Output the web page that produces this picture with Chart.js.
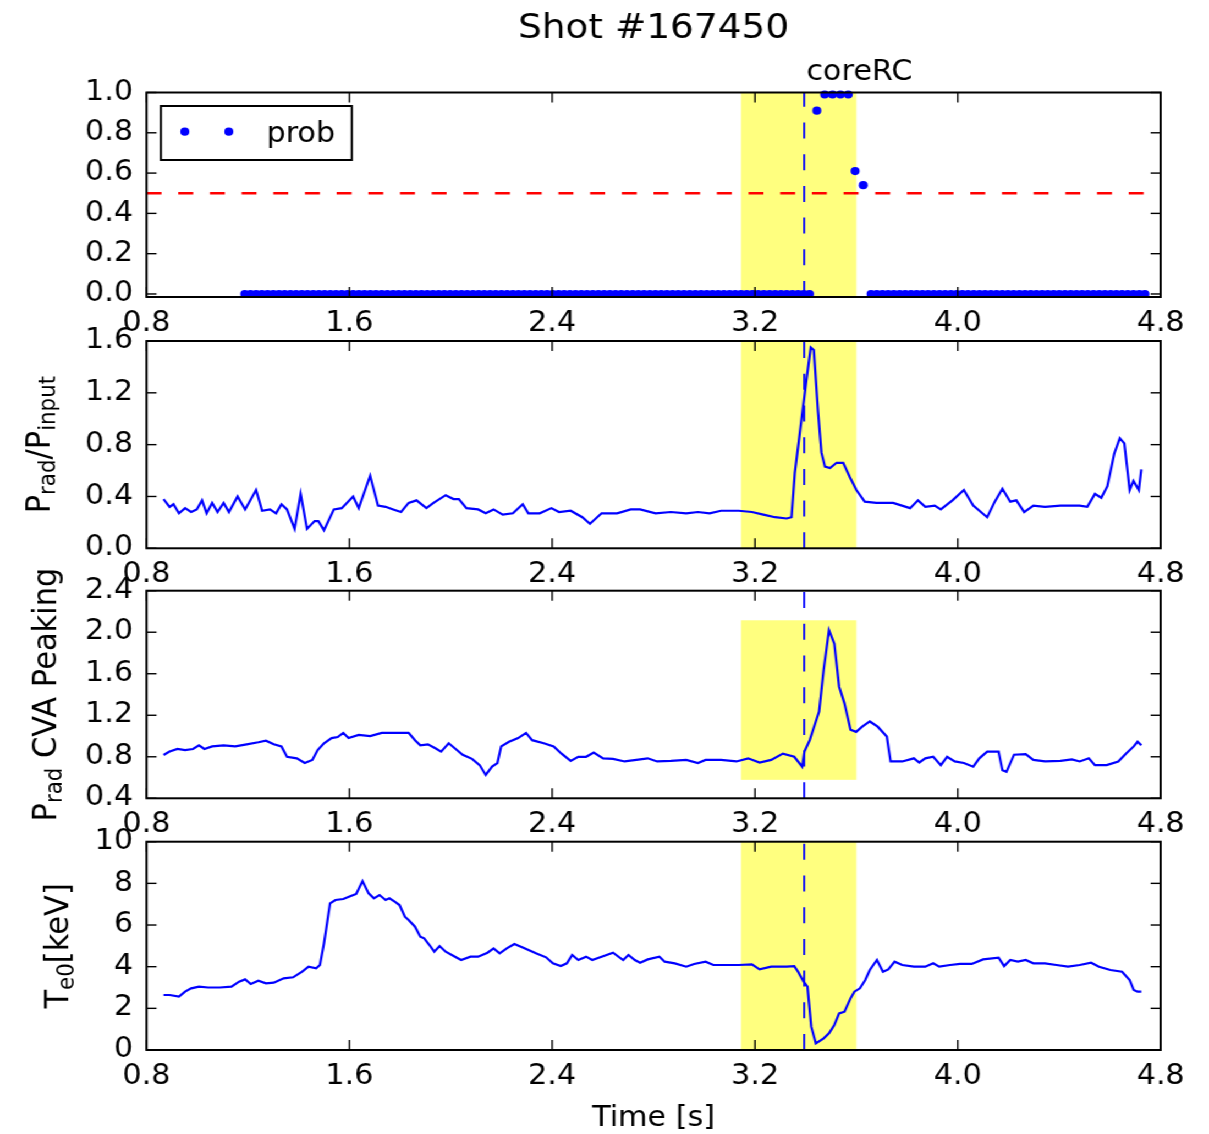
<!DOCTYPE html>
<html>
<head>
<meta charset="utf-8">
<script src="https://cdn.jsdelivr.net/npm/chart.js@4.4.1/dist/chart.umd.min.js"></script>
<style>
  html, body { margin: 0; padding: 0; background: #fff; width: 1209px; height: 1134px; overflow: hidden; }
  #figure { position: absolute; left: 0; top: 0; width: 1099px; height: 1134px;
            transform: scaleX(1.1001); transform-origin: 0 0; }
  #figure canvas { position: absolute; left: 0; top: 0; }
</style>
</head>
<body>
<div id="figure">
  <canvas id="probPanel" width="1099" height="1134"></canvas>
  <canvas id="pradPanel" width="1099" height="1134"></canvas>
  <canvas id="cvaPanel" width="1099" height="1134"></canvas>
  <canvas id="te0Panel" width="1099" height="1134"></canvas>
</div>
<script>
// ---------------- data ----------------
const shotNumber = 167450;
const eventLabel = 'coreRC';
const xTicks = [0.8, 1.6, 2.4, 3.2, 4.0, 4.8];
const eventStart = 3.145;          // start of shaded window [s]
const eventEnd = 3.600;            // end of shaded window [s]
const alarmTime = 3.394;           // alarm time [s]
const threshold = 0.5;
const cvaWindow = [0.578, 2.115];  // vertical extent of the shaded window on the CVA panel

const probTicks = [0.0, 0.2, 0.4, 0.6, 0.8, 1.0];
const pradTicks = [0.0, 0.4, 0.8, 1.2, 1.6];
const cvaTicks = [0.4, 0.8, 1.2, 1.6, 2.0, 2.4];
const te0Ticks = [0, 2, 4, 6, 8, 10];

const probTime = [
  1.1875, 1.2100, 1.2325, 1.2550, 1.2775, 1.3000, 1.3225, 1.3450, 1.3675, 1.3900,
  1.4125, 1.4350, 1.4575, 1.4800, 1.5025, 1.5250, 1.5475, 1.5700, 1.5925, 1.6150,
  1.6375, 1.6600, 1.6825, 1.7050, 1.7275, 1.7500, 1.7725, 1.7950, 1.8175, 1.8400,
  1.8625, 1.8850, 1.9075, 1.9300, 1.9525, 1.9750, 1.9975, 2.0200, 2.0425, 2.0650,
  2.0875, 2.1100, 2.1325, 2.1550, 2.1775, 2.2000, 2.2225, 2.2450, 2.2675, 2.2900,
  2.3125, 2.3350, 2.3575, 2.3800, 2.4025, 2.4250, 2.4475, 2.4700, 2.4925, 2.5150,
  2.5375, 2.5600, 2.5825, 2.6050, 2.6275, 2.6500, 2.6725, 2.6950, 2.7175, 2.7400,
  2.7625, 2.7850, 2.8075, 2.8300, 2.8525, 2.8750, 2.8975, 2.9200, 2.9425, 2.9650,
  2.9875, 3.0100, 3.0325, 3.0550, 3.0775, 3.1000, 3.1225, 3.1450, 3.1675, 3.1900,
  3.2125, 3.2350, 3.2575, 3.2800, 3.3025, 3.3250, 3.3475, 3.3700, 3.3925, 3.4150,
  3.444, 3.475, 3.506, 3.537, 3.568, 3.595, 3.627,
  3.6580, 3.6805, 3.7030, 3.7255, 3.7480, 3.7705, 3.7930, 3.8155, 3.8380, 3.8605,
  3.8830, 3.9055, 3.9280, 3.9505, 3.9730, 3.9955, 4.0180, 4.0405, 4.0630, 4.0855,
  4.1080, 4.1305, 4.1530, 4.1755, 4.1980, 4.2205, 4.2430, 4.2655, 4.2880, 4.3105,
  4.3330, 4.3555, 4.3780, 4.4005, 4.4230, 4.4455, 4.4680, 4.4905, 4.5130, 4.5355,
  4.5580, 4.5805, 4.6030, 4.6255, 4.6480, 4.6705, 4.6930, 4.7155, 4.7380
];
const probValue = [
  0, 0, 0, 0, 0, 0, 0, 0, 0, 0,  0, 0, 0, 0, 0, 0, 0, 0, 0, 0,
  0, 0, 0, 0, 0, 0, 0, 0, 0, 0,  0, 0, 0, 0, 0, 0, 0, 0, 0, 0,
  0, 0, 0, 0, 0, 0, 0, 0, 0, 0,  0, 0, 0, 0, 0, 0, 0, 0, 0, 0,
  0, 0, 0, 0, 0, 0, 0, 0, 0, 0,  0, 0, 0, 0, 0, 0, 0, 0, 0, 0,
  0, 0, 0, 0, 0, 0, 0, 0, 0, 0,  0, 0, 0, 0, 0, 0, 0, 0, 0, 0,
  0.91, 0.99, 0.99, 0.99, 0.99, 0.61, 0.54,
  0, 0, 0, 0, 0, 0, 0, 0, 0, 0,  0, 0, 0, 0, 0, 0, 0, 0, 0, 0,
  0, 0, 0, 0, 0, 0, 0, 0, 0, 0,  0, 0, 0, 0, 0, 0, 0, 0, 0, 0,
  0, 0, 0, 0, 0, 0, 0, 0, 0
];

const pradTime = [
  0.867, 0.891, 0.906, 0.928, 0.952, 0.976, 0.998, 1.019, 1.037, 1.059,
  1.080, 1.104, 1.125, 1.159, 1.189, 1.232, 1.256, 1.287, 1.311, 1.332,
  1.354, 1.384, 1.408, 1.433, 1.463, 1.478, 1.500, 1.539, 1.570, 1.615,
  1.637, 1.682, 1.713, 1.743, 1.773, 1.804, 1.834, 1.865, 1.904, 1.932,
  1.980, 2.011, 2.032, 2.062, 2.108, 2.138, 2.169, 2.205, 2.245, 2.284,
  2.306, 2.351, 2.397, 2.427, 2.473, 2.519, 2.549, 2.595, 2.656, 2.710,
  2.747, 2.808, 2.868, 2.929, 2.975, 3.021, 3.066, 3.136, 3.188, 3.233,
  3.279, 3.325, 3.344, 3.357, 3.377, 3.403, 3.420, 3.432, 3.449, 3.462,
  3.476, 3.496, 3.522, 3.548, 3.574, 3.600, 3.633, 3.679, 3.745, 3.812,
  3.843, 3.872, 3.909, 3.933, 3.979, 4.024, 4.061, 4.116, 4.146, 4.176,
  4.207, 4.231, 4.262, 4.298, 4.344, 4.405, 4.481, 4.511, 4.541, 4.566,
  4.590, 4.617, 4.639, 4.657, 4.678, 4.693, 4.714, 4.724
];
const pradRatio = [
  0.38, 0.32, 0.34, 0.27, 0.31, 0.28, 0.30, 0.37, 0.27, 0.35,
  0.28, 0.35, 0.28, 0.40, 0.30, 0.45, 0.29, 0.30, 0.27, 0.34,
  0.30, 0.15, 0.42, 0.15, 0.21, 0.21, 0.14, 0.30, 0.31, 0.40,
  0.31, 0.56, 0.33, 0.32, 0.30, 0.28, 0.35, 0.37, 0.31, 0.35,
  0.41, 0.38, 0.38, 0.31, 0.30, 0.27, 0.30, 0.26, 0.27, 0.34,
  0.27, 0.27, 0.31, 0.28, 0.29, 0.24, 0.19, 0.27, 0.27, 0.30,
  0.30, 0.27, 0.28, 0.27, 0.28, 0.27, 0.29, 0.29, 0.28, 0.26,
  0.24, 0.23, 0.24, 0.58, 0.89, 1.30, 1.55, 1.53, 1.05, 0.74,
  0.63, 0.62, 0.66, 0.66, 0.55, 0.45, 0.36, 0.35, 0.35, 0.31,
  0.37, 0.32, 0.33, 0.30, 0.37, 0.45, 0.33, 0.24, 0.36, 0.46,
  0.36, 0.37, 0.28, 0.33, 0.32, 0.33, 0.33, 0.32, 0.42, 0.39,
  0.48, 0.73, 0.85, 0.81, 0.45, 0.52, 0.45, 0.61
];

const cvaTime = [
  0.867, 0.891, 0.922, 0.952, 0.983, 1.007, 1.028, 1.059, 1.104, 1.150,
  1.195, 1.241, 1.271, 1.302, 1.332, 1.354, 1.393, 1.424, 1.454, 1.475,
  1.500, 1.530, 1.554, 1.576, 1.597, 1.637, 1.682, 1.728, 1.773, 1.834,
  1.859, 1.880, 1.910, 1.941, 1.962, 1.992, 2.017, 2.047, 2.084, 2.114,
  2.138, 2.163, 2.184, 2.199, 2.230, 2.266, 2.297, 2.321, 2.367, 2.406,
  2.437, 2.473, 2.503, 2.534, 2.564, 2.601, 2.640, 2.686, 2.732, 2.777,
  2.814, 2.868, 2.929, 2.975, 3.005, 3.066, 3.127, 3.173, 3.218, 3.264,
  3.310, 3.355, 3.386, 3.395, 3.416, 3.440, 3.453, 3.471, 3.492, 3.513,
  3.532, 3.553, 3.577, 3.599, 3.623, 3.653, 3.684, 3.720, 3.735, 3.781,
  3.827, 3.848, 3.872, 3.903, 3.933, 3.958, 3.988, 4.024, 4.061, 4.085,
  4.116, 4.161, 4.176, 4.192, 4.222, 4.268, 4.298, 4.344, 4.405, 4.450,
  4.481, 4.517, 4.541, 4.587, 4.633, 4.663, 4.694, 4.709, 4.724
];
const cvaPeaking = [
  0.817, 0.850, 0.875, 0.865, 0.875, 0.910, 0.875, 0.900, 0.910, 0.900,
  0.920, 0.940, 0.955, 0.920, 0.900, 0.800, 0.785, 0.740, 0.770, 0.865,
  0.930, 0.980, 0.990, 1.030, 0.980, 1.010, 1.000, 1.030, 1.030, 1.030,
  0.960, 0.910, 0.920, 0.880, 0.850, 0.930, 0.880, 0.820, 0.780, 0.720,
  0.625, 0.705, 0.740, 0.900, 0.945, 0.980, 1.030, 0.960, 0.930, 0.900,
  0.830, 0.760, 0.800, 0.800, 0.840, 0.785, 0.780, 0.755, 0.770, 0.785,
  0.755, 0.760, 0.770, 0.740, 0.770, 0.770, 0.755, 0.785, 0.745, 0.770,
  0.830, 0.800, 0.705, 0.850, 0.960, 1.140, 1.235, 1.640, 2.020, 1.890,
  1.475, 1.315, 1.060, 1.040, 1.090, 1.140, 1.090, 0.995, 0.755, 0.755,
  0.785, 0.745, 0.785, 0.800, 0.720, 0.800, 0.755, 0.740, 0.705, 0.785,
  0.850, 0.850, 0.670, 0.655, 0.820, 0.825, 0.770, 0.755, 0.760, 0.775,
  0.755, 0.785, 0.720, 0.720, 0.755, 0.830, 0.900, 0.945, 0.910
];

const te0Time = [
  0.867, 0.891, 0.928, 0.952, 0.976, 1.007, 1.043, 1.089, 1.135, 1.165,
  1.189, 1.211, 1.241, 1.271, 1.302, 1.341, 1.378, 1.414, 1.439, 1.469,
  1.484, 1.500, 1.524, 1.545, 1.576, 1.606, 1.627, 1.652, 1.676, 1.697,
  1.719, 1.743, 1.758, 1.779, 1.798, 1.819, 1.834, 1.859, 1.880, 1.895,
  1.916, 1.935, 1.956, 1.980, 2.017, 2.041, 2.078, 2.108, 2.145, 2.169,
  2.193, 2.221, 2.251, 2.291, 2.336, 2.376, 2.403, 2.434, 2.458, 2.479,
  2.503, 2.534, 2.558, 2.595, 2.640, 2.680, 2.701, 2.726, 2.747, 2.777,
  2.823, 2.844, 2.884, 2.929, 2.960, 3.005, 3.036, 3.081, 3.136, 3.188,
  3.218, 3.264, 3.294, 3.325, 3.355, 3.370, 3.392, 3.407, 3.422, 3.440,
  3.471, 3.492, 3.513, 3.532, 3.553, 3.577, 3.592, 3.614, 3.635, 3.653,
  3.681, 3.705, 3.726, 3.751, 3.781, 3.827, 3.872, 3.903, 3.927, 3.970,
  4.009, 4.055, 4.100, 4.161, 4.183, 4.207, 4.237, 4.268, 4.298, 4.344,
  4.389, 4.435, 4.481, 4.526, 4.557, 4.602, 4.648, 4.678, 4.694, 4.709,
  4.724
];
const te0Value = [
  2.64, 2.64, 2.56, 2.80, 2.96, 3.04, 3.00, 3.00, 3.04, 3.28,
  3.39, 3.17, 3.33, 3.20, 3.23, 3.44, 3.49, 3.76, 4.00, 3.92,
  4.08, 5.12, 7.04, 7.20, 7.25, 7.39, 7.49, 8.11, 7.52, 7.28,
  7.44, 7.20, 7.28, 7.12, 6.96, 6.40, 6.24, 5.92, 5.44, 5.36,
  5.04, 4.72, 4.99, 4.72, 4.48, 4.32, 4.48, 4.48, 4.67, 4.88,
  4.64, 4.88, 5.09, 4.88, 4.64, 4.45, 4.16, 4.03, 4.16, 4.56,
  4.32, 4.48, 4.32, 4.48, 4.67, 4.32, 4.56, 4.32, 4.19, 4.35,
  4.48, 4.24, 4.16, 4.00, 4.13, 4.24, 4.08, 4.08, 4.08, 4.11,
  3.87, 4.00, 4.00, 4.00, 4.03, 3.76, 3.28, 3.04, 1.12, 0.32,
  0.56, 0.80, 1.20, 1.76, 1.84, 2.48, 2.80, 2.96, 3.36, 3.84,
  4.32, 3.76, 3.87, 4.24, 4.08, 4.00, 4.00, 4.16, 4.00, 4.08,
  4.13, 4.13, 4.35, 4.43, 4.03, 4.32, 4.24, 4.32, 4.16, 4.16,
  4.08, 4.00, 4.08, 4.19, 4.00, 3.84, 3.76, 3.36, 2.88, 2.80,
  2.80
];

// ---------------- layout & style ----------------
const W = 1099, H = 1134;
const STRETCH = 1209 / W;              // horizontal scale applied to #figure
const PLOT_LEFT = 133.2, PLOT_RIGHT = 1055;
const X_AXIS_H = 40;
const FONT = '"DejaVu Sans", "Bitstream Vera Sans", sans-serif';
const TEXT_SIZE = 27.5;
const LABEL_SIZE = 30.5;
const BLUE = '#0000ff';
const RED = '#ff0000';
const SPAN_FILL = 'rgba(255, 255, 0, 0.5)';
const font = (s) => `${s}px ${FONT}`;

const pts = (xs, ys) => xs.map((t, i) => ({ x: t, y: ys[i] }));

function richWidth(ctx, parts, size) {
  let w = 0;
  for (const [txt, sub] of parts) {
    ctx.font = font(sub ? size * 0.7 : size);
    w += ctx.measureText(txt).width;
  }
  return w;
}
function drawRich(ctx, parts, size, x, y) {
  let cx = x;
  for (const [txt, sub] of parts) {
    ctx.font = font(sub ? size * 0.7 : size);
    ctx.fillText(txt, cx, sub ? y + size * 0.18 : y);
    cx += ctx.measureText(txt).width;
  }
}
// rotated axis label, baseline at screen x = baseX, centred on the panel
function drawYLabel(chart, parts, baseX) {
  const { ctx, chartArea: a } = chart;
  ctx.save();
  ctx.fillStyle = '#000';
  ctx.textBaseline = 'alphabetic';
  ctx.textAlign = 'left';
  ctx.translate(baseX, (a.top + a.bottom) / 2);
  ctx.rotate(-Math.PI / 2);
  const w = richWidth(ctx, parts, LABEL_SIZE);
  drawRich(ctx, parts, LABEL_SIZE, -w / 2, 0);
  ctx.restore();
}

const panelExtras = {
  probPanel(chart) {
    const { ctx, chartArea: a, scales: { x } } = chart;
    ctx.save();
    ctx.fillStyle = '#000';
    // figure title
    ctx.font = font(34);
    ctx.textAlign = 'center';
    ctx.textBaseline = 'alphabetic';
    ctx.fillText('Shot #' + shotNumber, (a.left + a.right) / 2, 37.5);
    // event label next to the alarm line
    ctx.font = font(TEXT_SIZE);
    ctx.textAlign = 'left';
    ctx.fillText(eventLabel, x.getPixelForValue(alarmTime) + 2, 79.5);
    // legend box
    const ds = chart.data.datasets[0];
    const lx = a.left + 13, ly = a.top + 13.5, lw = 173.6, lh = 54;
    ctx.fillStyle = '#fff';
    ctx.fillRect(lx, ly, lw, lh);
    ctx.strokeStyle = '#000';
    ctx.lineWidth = 2;
    ctx.strokeRect(lx, ly, lw, lh);
    ctx.fillStyle = ds.backgroundColor;
    for (const dx of [21.8, 61.8]) {
      ctx.beginPath();
      ctx.arc(lx + dx, ly + 25.7, ds.pointRadius, 0, Math.PI * 2);
      ctx.fill();
    }
    ctx.fillStyle = '#000';
    ctx.fillText(ds.label, lx + 96, ly + 35.5);
    ctx.restore();
  },
  pradPanel(chart) {
    drawYLabel(chart, [['P'], ['rad', 1], ['/'], ['P'], ['input', 1]], 45);
  },
  cvaPanel(chart) {
    drawYLabel(chart, [['P'], ['rad', 1], [' CVA Peaking']], 50.5);
  },
  te0Panel(chart) {
    drawYLabel(chart, [['T'], ['e0', 1], ['[keV]']], 61.5);
    const { ctx, chartArea: a } = chart;
    ctx.save();
    ctx.fillStyle = '#000';
    ctx.font = font(TEXT_SIZE);
    ctx.textAlign = 'center';
    ctx.textBaseline = 'alphabetic';
    ctx.fillText('Time [s]', (a.left + a.right) / 2, 1126);
    ctx.restore();
  }
};

const panelWindow = { cvaPanel: cvaWindow };

// shaded window, frame, inward ticks and per-panel text
const decor = {
  id: 'decor',
  beforeDatasetsDraw(chart) {
    const { ctx, chartArea: a, scales: { x, y } } = chart;
    const win = panelWindow[chart.canvas.id];
    const x0 = x.getPixelForValue(eventStart), x1 = x.getPixelForValue(eventEnd);
    const yTop = win ? y.getPixelForValue(win[1]) : a.top;
    const yBot = win ? y.getPixelForValue(win[0]) : a.bottom;
    ctx.save();
    ctx.fillStyle = SPAN_FILL;
    ctx.fillRect(x0, yTop, x1 - x0, yBot - yTop);
    ctx.restore();
  },
  afterDatasetsDraw(chart) {
    const { ctx, chartArea: a, scales: { x, y } } = chart;
    const seg = (x0, y0, x1, y1) => { ctx.beginPath(); ctx.moveTo(x0, y0); ctx.lineTo(x1, y1); ctx.stroke(); };
    ctx.save();
    ctx.strokeStyle = '#000';
    ctx.lineWidth = 1.4;
    const tl = 10, tlx = 10 / STRETCH;
    for (const t of x.ticks) {
      const px = x.getPixelForValue(t.value);
      seg(px, a.bottom, px, a.bottom - tl);
      seg(px, a.top, px, a.top + tl);
    }
    for (const t of y.ticks) {
      const py = y.getPixelForValue(t.value);
      seg(a.left, py, a.left + tlx, py);
      seg(a.right, py, a.right - tlx, py);
    }
    ctx.lineWidth = 2;
    ctx.strokeRect(a.left, a.top, a.right - a.left, a.bottom - a.top);
    ctx.restore();
  },
  afterDraw(chart) {
    const extra = panelExtras[chart.canvas.id];
    if (extra) extra(chart);
  }
};

function xScale() {
  return {
    type: 'linear', min: 0.8, max: 4.8,
    afterBuildTicks: (s) => { s.ticks = xTicks.map((v) => ({ value: v })); },
    ticks: { callback: (v) => v.toFixed(1), font: { family: FONT, size: TEXT_SIZE }, color: '#000',
             padding: 10.5, autoSkip: false, maxRotation: 0, minRotation: 0 },
    grid: { display: false, drawTicks: false },
    border: { display: false },
    afterFit: (s) => { s.height = X_AXIS_H; s.paddingLeft = 0; s.paddingRight = 0; }
  };
}
function yScale(min, max, tickValues, fmt) {
  return {
    type: 'linear', min, max,
    afterBuildTicks: (s) => { s.ticks = tickValues.map((v) => ({ value: v })); },
    ticks: { callback: fmt, font: { family: FONT, size: TEXT_SIZE }, color: '#000',
             padding: 12.3, autoSkip: false },
    grid: { display: false, drawTicks: false },
    border: { display: false },
    afterFit: (s) => { s.width = PLOT_LEFT; s.paddingTop = 0; s.paddingBottom = 0; }
  };
}

function alarmLine(yMin, yMax) {
  return {
    label: 'alarm', data: [{ x: alarmTime, y: yMin }, { x: alarmTime, y: yMax }],
    showLine: true, borderColor: BLUE, borderWidth: 1.8, borderDash: [16, 15.7],
    pointRadius: 0, clip: false
  };
}
function seriesLine(label, xs, ys) {
  return { label, data: pts(xs, ys), showLine: true, borderColor: BLUE, borderWidth: 2.2,
           pointRadius: 0, tension: 0 };
}

const panels = [
  {
    id: 'probPanel', top: 92.5, bottom: 297,
    y: yScale(-0.015, 1.0, probTicks, (v) => v.toFixed(1)),
    datasets: [
      { label: 'prob', data: pts(probTime, probValue), showLine: false, pointRadius: 4.1,
        pointBackgroundColor: BLUE, backgroundColor: BLUE, pointBorderWidth: 0, clip: false },
      { label: 'threshold', data: [{ x: 0.8, y: threshold }, { x: 4.8, y: threshold }], showLine: true,
        borderColor: RED, borderWidth: 2.5, borderDash: [13.6, 15.2], pointRadius: 0 },
      alarmLine(-0.015, 1.0)
    ]
  },
  {
    id: 'pradPanel', top: 341, bottom: 548.3,
    y: yScale(0, 1.6, pradTicks, (v) => v.toFixed(1)),
    datasets: [seriesLine('Prad/Pinput', pradTime, pradRatio), alarmLine(0, 1.6)]
  },
  {
    id: 'cvaPanel', top: 590.7, bottom: 798.3,
    y: yScale(0.4, 2.4, cvaTicks, (v) => v.toFixed(1)),
    datasets: [seriesLine('Prad CVA Peaking', cvaTime, cvaPeaking), alarmLine(0.4, 2.4)]
  },
  {
    id: 'te0Panel', top: 841.7, bottom: 1050,
    y: yScale(0, 10, te0Ticks, (v) => String(v)),
    datasets: [seriesLine('Te0', te0Time, te0Value), alarmLine(0, 10)]
  }
];

for (const p of panels) {
  new Chart(document.getElementById(p.id), {
    type: 'scatter',
    data: { datasets: p.datasets },
    options: {
      responsive: false, animation: false, devicePixelRatio: 1, events: [],
      layout: { padding: { left: 0, top: p.top, right: W - PLOT_RIGHT, bottom: H - p.bottom - X_AXIS_H } },
      plugins: { legend: { display: false }, tooltip: { enabled: false }, title: { display: false } },
      scales: { x: xScale(), y: p.y }
    },
    plugins: [decor]
  });
}
</script>
</body>
</html>
